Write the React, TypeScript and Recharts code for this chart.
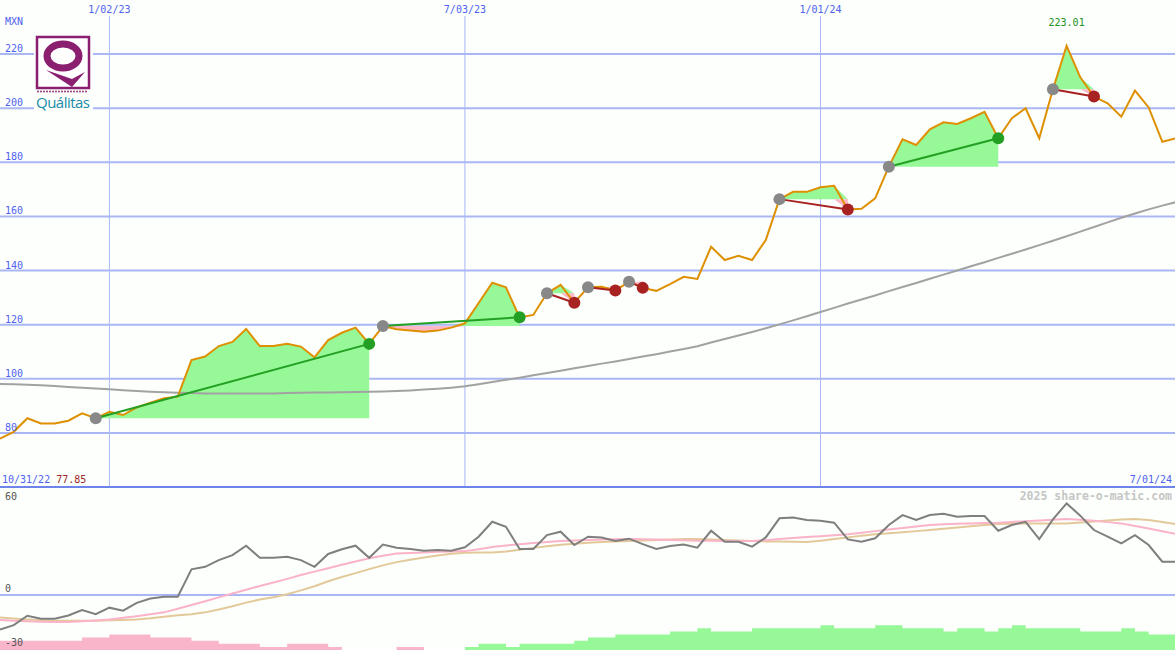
import React from 'react';
import { ComposedChart, Line, Area, XAxis, YAxis, CartesianGrid, ReferenceLine, ReferenceDot } from 'recharts';

const BG = '#fcfffc';
const GRID = '#a9b7f5';
const RULE = '#6f84ea';
const BLUE = '#4f62f0';
const MONO = '"DejaVu Sans Mono", monospace';
const W = 1176;
const TOP_H = 487;
const LOW_H = 163;

// weekly points, index 0 is the first week on the left edge
const dateTicks = [8, 34, 60];
const dateLabels = ['1/02/23', '7/03/23', '1/01/24'];
const firstDate = '10/31/22';
const lastDate = '7/01/24';
const priceTicks = [80, 100, 120, 140, 160, 180, 200, 220];
const oscTicks = [60, 0, -30];

const price = [
  77.85, 80.4, 85.4, 83.5, 83.5, 84.5, 87.2, 85.4, 87.8, 86.6,
  89.4, 91.2, 92.8, 93.4, 106.9, 108.2, 112.1, 113.6, 118.4, 112.1,
  112.1, 112.9, 111.9, 107.9, 114.3, 117.0, 118.9, 112.9, 119.5, 118.3,
  117.8, 117.4, 117.8, 118.9, 120.5, 128.0, 135.5, 133.8, 122.7, 123.6,
  131.6, 134.7, 128.1, 133.8, 134.0, 132.6, 135.9, 133.6, 132.5, 135.0,
  137.7, 136.9, 148.8, 143.9, 145.5, 143.9, 151.3, 166.4, 169.1, 169.1,
  170.8, 171.3, 162.6, 162.8, 166.7, 178.4, 188.5, 186.4, 192.2, 194.8,
  194.2, 196.3, 198.7, 188.9, 196.3, 200.0, 188.9, 207.0, 223.01, 211.4,
  204.3, 201.8, 196.9, 206.5, 200.3, 187.6, 188.9,
];

const longAvg = [
  98.1, 98.0, 97.8, 97.6, 97.3, 97.0, 96.7, 96.4, 96.1, 95.8,
  95.5, 95.2, 95.0, 94.8, 94.7, 94.6, 94.6, 94.6, 94.6, 94.6,
  94.6, 94.7, 94.8, 94.9, 94.9, 95.0, 95.1, 95.2, 95.3, 95.5,
  95.7, 96.0, 96.3, 96.7, 97.2, 98.0, 98.8, 99.6, 100.4, 101.3,
  102.1, 103.0, 103.9, 104.7, 105.6, 106.4, 107.3, 108.2, 109.1, 110.1,
  111.0, 112.0, 113.4, 114.7, 116.0, 117.3, 118.7, 120.1, 121.6, 123.1,
  124.7, 126.2, 127.8, 129.3, 130.8, 132.4, 133.9, 135.4, 137.0, 138.5,
  140.0, 141.6, 143.1, 144.7, 146.2, 147.8, 149.4, 151.0, 152.7, 154.4,
  156.1, 157.8, 159.5, 161.1, 162.6, 164.0, 165.3,
];

const osc = [
  -19.1, -16.7, -11.5, -13.1, -13.1, -11.3, -8.3, -10.6, -7.0, -8.7,
  -4.3, -1.9, -0.9, -0.9, 14.3, 15.7, 19.4, 22.2, 27.4, 20.7,
  20.7, 21.3, 19.4, 15.7, 22.8, 25.4, 27.4, 20.7, 28.0, 26.3,
  25.6, 24.6, 25.0, 24.6, 26.5, 32.4, 40.7, 37.9, 25.6, 25.6,
  33.3, 35.2, 27.8, 32.4, 31.9, 30.0, 31.3, 28.3, 25.6, 27.2,
  28.1, 26.3, 35.7, 29.6, 29.6, 26.9, 32.0, 42.6, 43.1, 41.7,
  41.3, 40.2, 30.9, 29.6, 31.5, 38.9, 44.4, 41.7, 44.4, 45.2,
  43.5, 43.9, 43.9, 35.7, 38.9, 40.7, 31.1, 42.0, 50.9, 44.1,
  36.1, 32.4, 28.7, 33.3, 27.8, 18.5, 18.5,
];

const oscFast = [
  -13.9, -14.2, -14.5, -14.8, -15.0, -15.0, -14.6, -14.1, -13.5, -12.6,
  -11.7, -10.7, -9.6, -7.6, -5.5, -3.4, -1.3, 0.9, 3.0, 5.0,
  7.0, 9.0, 11.1, 13.0, 14.9, 16.8, 18.6, 20.4, 21.8, 23.1,
  23.4, 23.7, 24.0, 24.2, 24.4, 25.5, 26.7, 27.5, 28.2, 28.9,
  29.5, 30.0, 30.3, 30.6, 30.8, 31.0, 31.1, 31.0, 30.8, 30.6,
  30.4, 30.2, 30.1, 30.0, 30.0, 30.0, 30.5, 31.1, 31.7, 32.2,
  32.7, 33.2, 33.8, 34.6, 35.5, 36.4, 37.3, 38.1, 38.9, 39.3,
  39.6, 39.8, 40.0, 40.2, 40.6, 41.0, 41.4, 41.8, 42.2, 41.8,
  41.2, 40.5, 39.8, 38.4, 36.9, 35.4, 33.9,
];

const oscSlow = [
  -12.4, -13.0, -13.5, -13.9, -14.2, -14.3, -14.3, -14.2, -14.0, -13.8,
  -13.5, -12.9, -12.1, -11.2, -10.6, -9.6, -8.0, -6.2, -4.2, -2.5,
  -1.2, 0.5, 2.6, 4.9, 7.7, 10.0, 12.2, 14.4, 16.5, 18.3,
  19.6, 20.8, 22.0, 22.9, 23.5, 23.6, 23.6, 24.2, 25.2, 26.2,
  27.1, 27.9, 28.5, 29.0, 29.4, 29.7, 30.0, 30.3, 30.6, 30.9,
  31.1, 31.1, 30.9, 30.6, 30.3, 30.0, 29.8, 29.7, 29.6, 29.5,
  30.2, 31.1, 32.0, 33.0, 33.7, 34.3, 34.9, 35.5, 36.1, 36.8,
  37.5, 38.2, 38.9, 39.4, 39.6, 39.7, 39.8, 39.8, 39.8, 40.3,
  40.8, 41.4, 41.9, 42.2, 41.7, 40.6, 39.4,
];

// momentum histogram, one bar per week
const hist = [
  -3, -3, -3, -3, -3, -3, -4, -4, -5, -5,
  -5, -4, -4, -4, -3, -3, -2, -2, -2, -1,
  -1, -2, -2, -2, -1, 0, 0, 0, 0, -1,
  -1, 0, 0, 0, 1, 2, 2, 1, 2, 2,
  2, 2, 3, 4, 4, 5, 5, 5, 5, 6,
  6, 7, 6, 6, 6, 7, 7, 7, 7, 7,
  8, 7, 7, 7, 8, 8, 7, 7, 7, 6,
  7, 7, 6, 7, 8, 7, 7, 7, 7, 6,
  6, 6, 7, 6, 5, 5,
];

const trades = [
  { entry: 7, exit: 27 },
  { entry: 28, exit: 38 },
  { entry: 40, exit: 42 },
  { entry: 43, exit: 45 },
  { entry: 46, exit: 47 },
  { entry: 57, exit: 62 },
  { entry: 65, exit: 73 },
  { entry: 77, exit: 80 },
];

const rows = price.map((p, i) => {
  const row: Record<string, any> = {
    i,
    price: p,
    avg: longAvg[i],
    osc: osc[i],
    fast: oscFast[i],
    slow: oscSlow[i],
  };
  const h = hist[Math.min(i, hist.length - 1)];
  row.up = Math.max(h, 0);
  row.down = Math.max(-h, 0);
  trades.forEach((t, k) => {
    if (i < t.entry || i > t.exit) return;
    const base = price[t.entry];
    row[`gain${k}`] = [base, Math.max(p, base)];
    row[`loss${k}`] = [Math.min(p, base), base];
    if (i === t.entry || i === t.exit) row[`trade${k}`] = p;
  });
  return row;
});

const peak = Math.max(...price);
const peakIdx = price.indexOf(peak);

const PriceTick = ({ y, payload }: any) => (
  <text x={5} y={y - 2} fill={BLUE} fontSize={10} fontFamily={MONO}>
    {payload.value}
  </text>
);

const DateTick = ({ x, payload }: any) => (
  <g>
    <rect x={x - 24} y={0} width={48} height={16} fill={BG} />
    <text x={x} y={13} textAnchor="middle" fill={BLUE} fontSize={10} fontFamily={MONO}>
      {dateLabels[dateTicks.indexOf(payload.value)]}
    </text>
  </g>
);

const OscTick = ({ y, payload }: any) => (
  <text x={5} y={payload.value === 60 ? y + 13 : y - 3} fill="#555" fontSize={10} fontFamily={MONO}>
    {payload.value}
  </text>
);

const Logo = () => (
  <svg width={100} height={116} style={{ position: 'absolute', left: 0, top: 0 }}>
    <rect x={34} y={33} width={59} height={80} fill={BG} />
    <rect x={37} y={37} width={52} height={51} fill="#fff" stroke="#8b1f6f" strokeWidth={2.5} />
    <ellipse cx={63} cy={56} rx={16} ry={12} fill="none" stroke="#8b1f6f" strokeWidth={7} />
    <path d="M46 70 L72 87 L85 72 L72 79 Z" fill="#8b1f6f" />
    {Array.from({ length: 17 }, (_, k) => (
      <circle key={k} cx={38 + k * 3} cy={91.5} r={0.9} fill="#8b1f6f" />
    ))}
    <text x={36} y={108} fontSize={15} fill="#1a8aa8" fontFamily='"Open Sans", sans-serif' textLength={54}>
      Quálitas
    </text>
  </svg>
);

export default function App() {
  return (
    <div style={{ position: 'absolute', left: 0, top: 0, width: 1175, height: 650, overflow: 'hidden', background: BG }}>
      <div style={{ position: 'absolute', left: 0, top: 0 }}>
        <ComposedChart width={W} height={TOP_H} data={rows} margin={{ top: 0, right: 0, bottom: 0, left: 0 }}>
          <CartesianGrid vertical={false} syncWithTicks stroke={GRID} strokeWidth={2} />
          <CartesianGrid horizontal={false} syncWithTicks stroke={GRID} strokeWidth={1} />
          <XAxis
            type="number"
            dataKey="i"
            domain={[0, 86]}
            ticks={dateTicks}
            orientation="top"
            mirror
            height={20}
            interval={0}
            axisLine={false}
            tickLine={false}
            tick={<DateTick />}
            allowDataOverflow
          />
          <YAxis
            domain={[60, 240]}
            ticks={priceTicks}
            mirror
            width={40}
            interval={0}
            axisLine={false}
            tickLine={false}
            tick={<PriceTick />}
            allowDataOverflow
          />
          {trades.map((t, k) => (
            <Area
              key={`g${k}`}
              dataKey={`gain${k}`}
              stroke="none"
              fill="#97f897"
              fillOpacity={1}
              dot={false}
              activeDot={false}
              isAnimationActive={false}
            />
          ))}
          {trades.map((t, k) => (
            <Area
              key={`l${k}`}
              dataKey={`loss${k}`}
              stroke="none"
              fill="#ffb8c8"
              fillOpacity={1}
              dot={false}
              activeDot={false}
              isAnimationActive={false}
            />
          ))}
          <Line dataKey="avg" stroke="#a2a2a2" strokeWidth={2} dot={false} activeDot={false} isAnimationActive={false} />
          <Line dataKey="price" stroke="#de9000" strokeWidth={2} dot={false} activeDot={false} isAnimationActive={false} />
          {trades.map((t, k) => {
            const color = price[t.exit] > price[t.entry] ? '#23a023' : '#a82222';
            return (
              <Line
                key={`t${k}`}
                dataKey={`trade${k}`}
                stroke={color}
                strokeWidth={2}
                connectNulls
                activeDot={false}
                isAnimationActive={false}
                dot={(p: any) =>
                  p.cy == null ? (
                    <g key={`n${k}-${p.index}`} />
                  ) : (
                    <circle key={`d${k}-${p.index}`} cx={p.cx} cy={p.cy} r={6} fill={p.index === t.entry ? '#888888' : color} />
                  )
                }
              />
            );
          })}
          <ReferenceDot
            x={peakIdx}
            y={peak}
            r={0}
            fill="none"
            stroke="none"
            label={{ value: peak.toFixed(2), position: 'top', offset: 20, fill: '#229022', fontSize: 10, fontFamily: MONO }}
          />
        </ComposedChart>
      </div>

      <div style={{ position: 'absolute', left: 0, top: TOP_H }}>
        <ComposedChart width={W} height={LOW_H} data={rows} margin={{ top: 0, right: 0, bottom: 0, left: 0 }}>
          <CartesianGrid horizontal={false} syncWithTicks stroke={GRID} strokeWidth={1} yAxisId="osc" />
          <XAxis
            type="number"
            dataKey="i"
            domain={[0, 86]}
            ticks={dateTicks}
            height={0}
            tick={false}
            axisLine={false}
            tickLine={false}
            allowDataOverflow
          />
          <YAxis
            yAxisId="osc"
            domain={[-30.5, 60]}
            ticks={oscTicks}
            mirror
            width={40}
            interval={0}
            axisLine={false}
            tickLine={false}
            tick={<OscTick />}
            allowDataOverflow
          />
          <YAxis yAxisId="hist" domain={[0, 52.6]} hide allowDataOverflow />
          <ReferenceLine yAxisId="osc" y={0} stroke={GRID} strokeWidth={2} />
          <Area yAxisId="hist" type="stepAfter" dataKey="down" stroke="none" fill="#f9b5c9" fillOpacity={1} dot={false} activeDot={false} isAnimationActive={false} />
          <Area yAxisId="hist" type="stepAfter" dataKey="up" stroke="none" fill="#97f897" fillOpacity={1} dot={false} activeDot={false} isAnimationActive={false} />
          <Line yAxisId="osc" dataKey="slow" stroke="#e3c999" strokeWidth={2} dot={false} activeDot={false} isAnimationActive={false} />
          <Line yAxisId="osc" dataKey="fast" stroke="#fbb3c8" strokeWidth={2} dot={false} activeDot={false} isAnimationActive={false} />
          <Line yAxisId="osc" dataKey="osc" stroke="#7f7f7f" strokeWidth={2} dot={false} activeDot={false} isAnimationActive={false} />
        </ComposedChart>
      </div>

      <div style={{ position: 'absolute', left: 0, top: TOP_H - 1, width: 1175, height: 2, background: RULE }} />

      <svg width={1175} height={650} style={{ position: 'absolute', left: 0, top: 0, pointerEvents: 'none' }}>
        <text x={5} y={25} fill={BLUE} fontSize={10} fontFamily={MONO}>MXN</text>
        <text x={2} y={483} fill={BLUE} fontSize={10} fontFamily={MONO}>
          {firstDate} <tspan fill="#a02828">{price[0].toFixed(2)}</tspan>
        </text>
        <text x={1172} y={483} textAnchor="end" fill={BLUE} fontSize={10} fontFamily={MONO}>{lastDate}</text>
        <text x={1172} y={500} textAnchor="end" fill="#c6c6c6" fontSize={11.5} fontWeight="bold" fontFamily={MONO}>
          2025 share-o-matic.com
        </text>
      </svg>

      <Logo />
    </div>
  );
}
